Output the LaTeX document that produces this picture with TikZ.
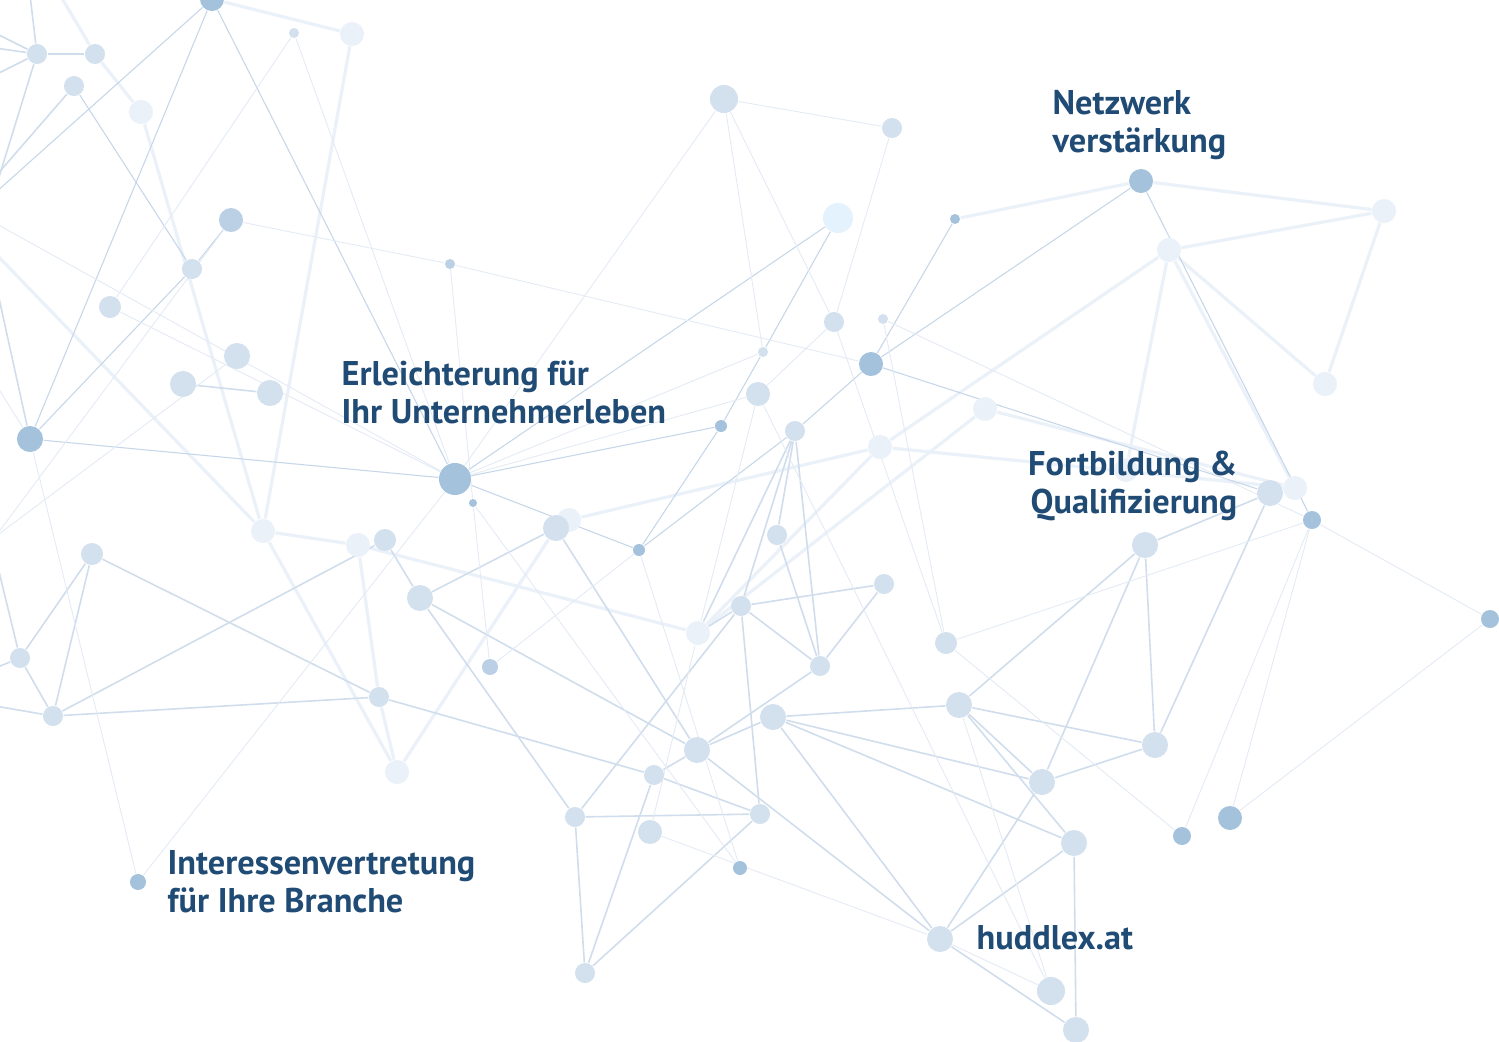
\documentclass[tikz,border=0pt]{standalone}
\usepackage{fontspec}
\setmainfont{PT Sans}
\usetikzlibrary{positioning}
\pgfdeclarelayer{paper}
\pgfdeclarelayer{edges}
\pgfsetlayers{paper,edges,main}
\definecolor{dotdk}{HTML}{A4C2DC}
\definecolor{dotmb}{HTML}{BCD0E5}
\definecolor{dotmd}{HTML}{D3E0EE}
\definecolor{dotlt}{HTML}{EBF1F9}
\definecolor{dotcy}{HTML}{E3F2FD}
\definecolor{lnmd}{HTML}{D0DDEC}
\definecolor{lnlt}{HTML}{EBF1F9}
\definecolor{lnft}{HTML}{E4EBF4}
\definecolor{lnbl}{HTML}{C6D7E9}
\definecolor{txtblue}{HTML}{1F4B75}

\begin{document}
\begin{tikzpicture}[x=0.01cm,y=-0.01cm,line cap=round,line join=round,
  dot/.style={circle,inner sep=0pt,draw=none,minimum size=#1*0.02cm},
  dk/.style={dot=#1,fill=dotdk},
  mb/.style={dot=#1,fill=dotmb},
  md/.style={dot=#1,fill=dotmd},
  lt/.style={dot=#1,fill=dotlt},
  cy/.style={dot=#1,fill=dotcy},
  ln/.style={draw=lnmd,line width=0.45pt},
  lw/.style={draw=lnlt,line width=0.9pt},
  lf/.style={draw=lnft,line width=0.25pt},
  lb/.style={draw=lnbl,line width=0.3pt},
  lbl/.style={text=txtblue,font=\bfseries\fontsize{9.75}{10.8}\selectfont,
    align=left,inner sep=0pt,anchor=base west}]
\useasboundingbox (0,0) rectangle (1499,1042);
\begin{pgfonlayer}{paper}
\fill[white] (0,0) rectangle (1499,1042);
\end{pgfonlayer}
\clip (0,0) rectangle (1499,1042);

% free ends off the page
\coordinate (e1) at (60,-5);
\coordinate (e2) at (-5,33);
\coordinate (e3) at (-5,48);
\coordinate (e4) at (-5,75);
\coordinate (e5) at (30,-5);
\coordinate (e6) at (-5,190);
\coordinate (e7) at (-5,177);
\coordinate (e8) at (-5,193);
\coordinate (e9) at (-5,223);
\coordinate (e10) at (-5,253);
\coordinate (e11) at (-5,280);
\coordinate (e12) at (-5,383);
\coordinate (e13) at (-5,537);
\coordinate (e14) at (-5,555);
\coordinate (e15) at (-5,668);
\coordinate (e16) at (-5,706);

% dots
\node[dk=12] (n1) at (212,-1) {};
\node[md=10] (n2) at (37,54) {};
\node[md=10] (n3) at (95,54) {};
\node[md=10] (n4) at (74,86) {};
\node[lt=12] (n5) at (141,112) {};
\node[md=5] (n6) at (294,33) {};
\node[lt=12] (n7) at (352,34) {};
\node[mb=12] (n8) at (231,220) {};
\node[md=10] (n9) at (192,269) {};
\node[md=11] (n10) at (110,307) {};
\node[mb=5] (n11) at (450,264) {};
\node[md=13] (n12) at (237,356) {};
\node[md=13] (n13) at (183,384) {};
\node[md=13] (n14) at (270,393) {};
\node[dk=13] (n15) at (30,439) {};
\node[dk=16] (n16) at (455,479) {};
\node[dk=4] (n17) at (473,503) {};
\node[lt=12] (n18) at (263,531) {};
\node[lt=12] (n19) at (358,545) {};
\node[md=11] (n20) at (385,540) {};
\node[md=11] (n21) at (92,554) {};
\node[md=10] (n22) at (20,658) {};
\node[md=13] (n23) at (420,598) {};
\node[mb=8] (n24) at (490,667) {};
\node[md=10] (n25) at (379,697) {};
\node[md=10] (n26) at (53,716) {};
\node[lt=12] (n27) at (397,772) {};
\node[dk=8] (n28) at (138,882) {};
\node[md=5] (n29) at (763,352) {};
\node[dk=12] (n30) at (871,364) {};
\node[md=12] (n31) at (758,394) {};
\node[dk=6] (n32) at (721,426) {};
\node[md=10] (n33) at (795,431) {};
\node[lt=12] (n34) at (880,447) {};
\node[lt=12] (n35) at (985,409) {};
\node[lt=12] (n36) at (569,520) {};
\node[md=13] (n37) at (556,528) {};
\node[dk=6] (n38) at (639,550) {};
\node[md=10] (n39) at (777,535) {};
\node[md=10] (n40) at (741,606) {};
\node[lt=12] (n41) at (698,633) {};
\node[md=10] (n42) at (884,584) {};
\node[md=10] (n43) at (820,666) {};
\node[md=11] (n44) at (946,643) {};
\node[md=13] (n45) at (959,705) {};
\node[md=14] (n46) at (724,99) {};
\node[md=10] (n47) at (892,128) {};
\node[cy=15] (n48) at (838,218) {};
\node[dk=5] (n49) at (955,219) {};
\node[md=10] (n50) at (834,322) {};
\node[md=5] (n51) at (883,319) {};
\node[dk=12] (n52) at (1141,181) {};
\node[lt=12] (n53) at (1384,211) {};
\node[lt=12] (n54) at (1169,250) {};
\node[lt=12] (n55) at (1325,384) {};
\node[lt=12] (n56) at (1126,470) {};
\node[lt=12] (n58) at (1295,488) {};
\node[md=13] (n57) at (1270,493) {};
\node[dk=9] (n59) at (1312,520) {};
\node[md=13] (n60) at (1145,545) {};
\node[dk=9] (n61) at (1490,619) {};
\node[md=13] (n62) at (773,717) {};
\node[md=13] (n63) at (697,750) {};
\node[md=10] (n64) at (654,775) {};
\node[md=10] (n65) at (575,817) {};
\node[md=10] (n66) at (760,814) {};
\node[md=12] (n67) at (650,832) {};
\node[dk=7] (n68) at (740,868) {};
\node[md=10] (n69) at (585,973) {};
\node[md=13] (n70) at (940,939) {};
\node[md=13] (n71) at (1155,745) {};
\node[md=13] (n72) at (1042,782) {};
\node[md=13] (n73) at (1074,843) {};
\node[dk=9] (n74) at (1182,836) {};
\node[dk=12] (n75) at (1230,818) {};
\node[md=14] (n76) at (1051,991) {};
\node[md=13] (n77) at (1076,1030) {};

% links
\begin{pgfonlayer}{edges}
\clip (0,0) rectangle (1499,1042);
\foreach \a/\b in {n1/n7,n7/n18,n5/n18,e1/n3,n3/n5,n18/n19,n19/n41,n18/n27,
  e10/n18,n36/n34,n34/n58,n41/n35,n41/n34,n54/n53,n52/n53,n52/n49,n54/n55,
  n53/n55,n54/n34,n54/n56,n54/n58,n35/n58,n19/n25,n27/n25,n27/n37}
  \draw[lw] (\a) -- (\b);
\foreach \a/\b in {n1/n15,n1/n16,n1/e8,n15/n16,n16/n32,n38/n32,n32/n29,
  n29/n48,n16/n48,n52/n30,n49/n30,n52/n59,n4/n9,n8/n9,n9/n15,n16/n38,
  n38/n33,n33/n30,n30/n57}
  \draw[lb] (\a) -- (\b);
\foreach \a/\b in {n2/n3,n2/e2,n2/e3,n2/e4,n2/e5,n2/e6,n4/e7,n13/n14,
  n20/n26,n20/n23,n23/n37,n23/n63,n23/n65,n21/n22,n21/n26,n21/n25,n22/n26,
  n26/n25,n25/n64,n37/n63,n33/n39,n33/n40,n33/n41,n33/n43,n39/n43,n40/n42,
  n40/n43,n40/n41,n40/n65,n40/n66,n42/n43,n43/n63,n45/n62,n45/n60,n45/n71,
  n45/n72,n45/n73,n60/n72,n60/n71,n60/n57,n57/n71,n71/n72,n72/n70,n73/n70,
  n73/n77,n62/n63,n62/n70,n62/n72,n62/n73,n63/n64,n63/n70,n64/n66,n64/n69,
  n65/n66,n65/n69,n66/n69,n70/n77,n15/e11,n22/e15,n26/e16,n22/e14}
  \draw[ln] (\a) -- (\b);
\foreach \a/\b in {n6/n10,n6/n16,n11/n30,n8/n11,n11/n17,n10/n16,e9/n16,
  n12/e13,n8/e13,n15/n28,n16/n28,n16/n29,n16/n31,n16/n46,n17/n24,n17/n68,
  n24/n38,n38/n68,n46/n29,n46/n47,n46/n50,n47/n50,n50/n44,n50/n31,n51/n44,
  n51/n59,n44/n59,n59/n74,n59/n75,n59/n61,n61/n75,n44/n74,n67/n70,n67/n41,
  n70/n76,n45/n76,n31/n76,n31/n41,n15/e12}
  \draw[lf] (\a) -- (\b);
\end{pgfonlayer}

% captions
\node[lbl] (netz) at (1052,152) {Netzwerk\\verstärkung};
\node[lbl] (erl) at (341,423) {Erleichterung für\\Ihr Unternehmerleben};
\node[lbl,align=right,anchor=base east] (fort) at (1238,513) {Fortbildung \&\\Qualifizierung};
\node[lbl] (inter) at (167,912) {Interessenvertretung\\für Ihre Branche};
\node[lbl] (web) at (976,949) {huddlex.at};
\end{tikzpicture}
\end{document}
